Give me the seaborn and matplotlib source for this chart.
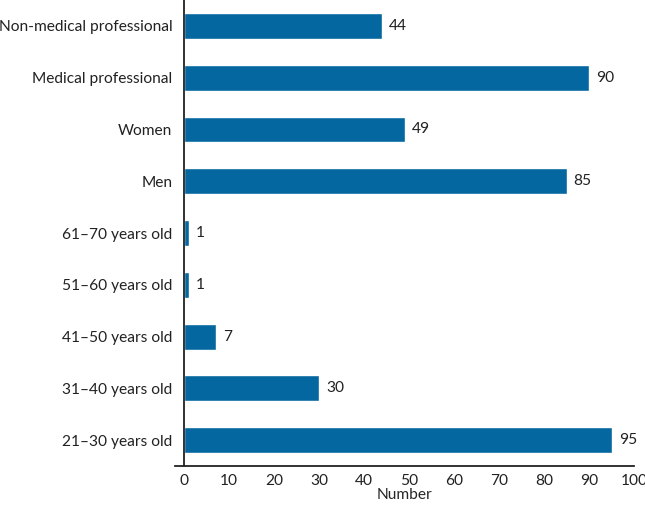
import matplotlib
matplotlib.use("Agg")
import matplotlib.pyplot as plt
import seaborn as sns
import pandas as pd

sns.set_style("white")
plt.rcParams['font.family'] = ['Lato', 'DejaVu Sans']

categories = ["Non-medical professional", "Medical professional", "Women", "Men",
              "61\u201370 years old", "51\u201360 years old", "41\u201350 years old",
              "31\u201340 years old", "21\u201330 years old"]
counts = [44, 90, 49, 85, 1, 1, 7, 30, 95]
x_ticks = [0, 10, 20, 30, 40, 50, 60, 70, 80, 90, 100]

df = pd.DataFrame({"category": categories, "count": counts})

fig = plt.figure(figsize=(6.45, 5.07), dpi=100)
ax = fig.add_axes([175 / 645, 1 - 466 / 507, (634 - 175) / 645, 466 / 507])

sns.barplot(data=df, x="count", y="category", orient="h", color="#05679f",
            saturation=1, width=0.5, ax=ax)

fs = 11.2
for i, v in enumerate(counts):
    ax.text(v + 1.6, i, str(v), va="center", ha="left", fontsize=fs, color="#222222")

ax.set_xlim(-2, 100)
ax.set_ylim(8.5, -0.5)
ax.set_xticks(x_ticks)
ax.set_xlabel("Number", fontsize=fs, labelpad=0.5)
ax.set_ylabel("")
ax.tick_params(axis="both", labelsize=fs, colors="#222222", length=5, width=1.3, direction="out")
ax.tick_params(axis="x", pad=0.5)
for side in ["top", "right"]:
    ax.spines[side].set_visible(False)
ax.spines["left"].set_position(("data", 0))
for side in ["left", "bottom"]:
    ax.spines[side].set_color("#222222")
    ax.spines[side].set_linewidth(1.3)

fig.savefig("out.png", dpi=100)
